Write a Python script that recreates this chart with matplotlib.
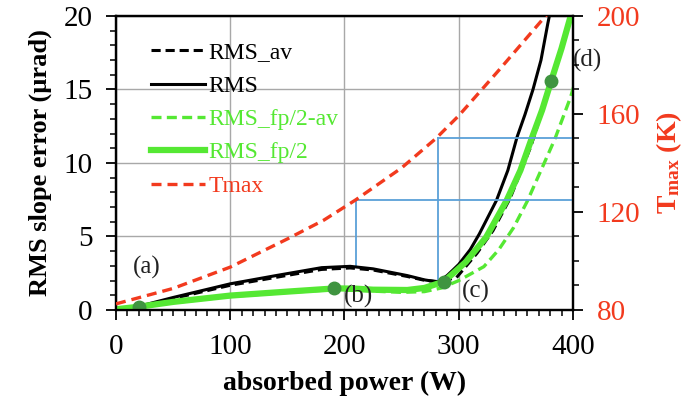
import matplotlib
matplotlib.use("Agg")
import matplotlib.pyplot as plt
from matplotlib.ticker import MultipleLocator

plt.rcParams['font.family'] = ['Liberation Serif', 'DejaVu Serif']
plt.rcParams['mathtext.fontset'] = 'custom'
plt.rcParams['mathtext.rm'] = 'Liberation Serif'
plt.rcParams['mathtext.bf'] = 'Liberation Serif:bold'

# ---- data ----
rms_power = [20, 50, 100, 140, 180, 205, 225, 255, 270, 282, 290, 300, 310, 318, 333, 343, 351, 358, 365, 372, 378, 382]
rms_value = [0.25, 0.85, 1.78, 2.34, 2.88, 2.97, 2.80, 2.34, 2.05, 1.90, 2.35, 3.10, 4.10, 5.17, 7.45, 9.50, 11.75, 13.3, 15.0, 17.0, 19.5, 21.0]

rmsav_power = [20, 50, 100, 140, 180, 205, 225, 255, 270, 282, 298, 316, 330, 345, 363, 381, 398, 400]
rmsav_value = [0.22, 0.78, 1.68, 2.22, 2.76, 2.86, 2.72, 2.28, 2.02, 1.93, 2.20, 3.86, 5.40, 7.60, 11.1, 15.5, 19.9, 20.4]

fp_power = [0, 20, 50, 100, 150, 192, 210, 225, 255, 270, 287, 306, 324, 342, 354, 364, 373, 381, 390, 398, 400]
fp_value = [0.05, 0.22, 0.55, 0.98, 1.25, 1.47, 1.45, 1.38, 1.36, 1.50, 1.93, 3.25, 4.95, 7.46, 9.50, 11.7, 13.6, 15.6, 17.8, 20.0, 20.5]

fpav_power = [0, 50, 100, 150, 190, 220, 250, 270, 285, 300, 322, 335, 348, 360, 372, 384, 398, 401]
fpav_value = [0.04, 0.50, 0.92, 1.20, 1.38, 1.30, 1.20, 1.25, 1.50, 2.00, 2.95, 4.10, 5.60, 7.40, 9.50, 11.6, 14.5, 15.3]

tmax_power = [0, 50, 100, 150, 182, 210, 250, 280, 300, 335, 376, 380]
tmax_value = [82.5, 88.8, 97.5, 109.0, 116.7, 125.0, 138.0, 150.0, 159.3, 177.8, 200.0, 202.0]

marker_power = [20, 191, 287, 381]
marker_value = [0.22, 1.47, 1.93, 15.6]

guide_power = [210, 282]
guide_rms = [2.95, 1.93]
guide_T = [125, 150]

point_labels = ['(a)', '(b)', '(c)', '(d)']
label_power = [27, 212, 315, 413]
label_value = [2.86, 0.95, 1.25, 17.0]

xlim = (0, 400)
ylim = (0, 20)
tlim = (80, 200)

GREEN = '#55e833'
RED = '#f23a1e'
BLUE = '#5aa0d8'
MARK = '#3f9440'

fig = plt.figure(figsize=(6.92, 4.04), dpi=100)
ax = fig.add_axes([0.1676, 0.2327, 0.6604, 0.7277])
ax2 = ax.twinx()

ax.set_xlim(*xlim)
ax.set_ylim(*ylim)
ax2.set_ylim(*tlim)

ax.grid(True, color='#a8a8a8', lw=1.0)
ax.set_axisbelow(True)

# guide lines (blue)
def t_to_left(t):
    return (t - tlim[0]) / (tlim[1] - tlim[0]) * (ylim[1] - ylim[0]) + ylim[0]

for p, r, t in zip(guide_power, guide_rms, guide_T):
    ax.plot([p, p], [r, t_to_left(t)], color=BLUE, lw=1.3, zorder=2)
    ax2.plot([p, xlim[1]], [t, t], color=BLUE, lw=1.3, zorder=2)

l_rmsav, = ax.plot(rmsav_power, rmsav_value, color='black', lw=2.2, ls=(0, (3, 1.6)), label='RMS_av', zorder=4)
l_rms, = ax.plot(rms_power, rms_value, color='black', lw=2.2, label='RMS', zorder=5)
l_fpav, = ax.plot(fpav_power, fpav_value, color=GREEN, lw=2.4, ls=(0, (3, 1.6)), label='RMS_fp/2-av', zorder=4)
l_fp, = ax.plot(fp_power, fp_value, color=GREEN, lw=4.5, label='RMS_fp/2', zorder=6)
ax.plot(marker_power, marker_value, 'o', color=MARK, ms=9, zorder=7)

l_t, = ax2.plot(tmax_power, tmax_value, color=RED, lw=2.4, ls=(0, (3, 1.8)), label='Tmax', zorder=3)

for s, p, v in zip(point_labels, label_power, label_value):
    ax.text(p, v, s, fontsize=18, ha='center', va='center', color='#222222', clip_on=False, zorder=8)

# ticks
ax.xaxis.set_major_locator(MultipleLocator(100))
ax.xaxis.set_minor_locator(MultipleLocator(10))
ax.yaxis.set_major_locator(MultipleLocator(5))
ax.yaxis.set_minor_locator(MultipleLocator(1))
ax2.yaxis.set_major_locator(MultipleLocator(40))
ax2.yaxis.set_minor_locator(MultipleLocator(10))

ax.tick_params(axis='both', which='major', direction='out', length=7, width=1.3, labelsize=21, pad=10)
ax.tick_params(axis='both', which='minor', direction='out', length=4.5, width=1.1)
ax2.tick_params(axis='y', which='major', direction='out', length=7, width=1.3, labelsize=21, labelcolor=RED, pad=10)
ax2.tick_params(axis='y', which='minor', direction='out', length=4.5, width=1.1)

for a in (ax, ax2):
    for sp in a.spines.values():
        sp.set_linewidth(1.6)
        sp.set_color('black')

ax.set_xlabel('absorbed power (W)', fontsize=20, fontweight='bold', labelpad=8)
ax.set_ylabel('RMS slope error (µrad)', fontsize=19, fontweight='bold', labelpad=8)
ax2.set_ylabel(r'$\mathbf{T_{max}}$ (K)', fontsize=20, fontweight='bold', color=RED, labelpad=10)

handles = [l_rmsav, l_rms, l_fpav, l_fp, l_t]
leg = ax2.legend(handles=handles, loc='upper left', bbox_to_anchor=(0.045, 0.96), frameon=False,
                 fontsize=17, handlelength=2.3, handletextpad=0.15, labelspacing=0.5, borderaxespad=0.2)
for txt, h in zip(leg.get_texts(), handles):
    c = h.get_color()
    txt.set_color('black' if c == 'black' else c)

fig.savefig('out.png', dpi=100)
